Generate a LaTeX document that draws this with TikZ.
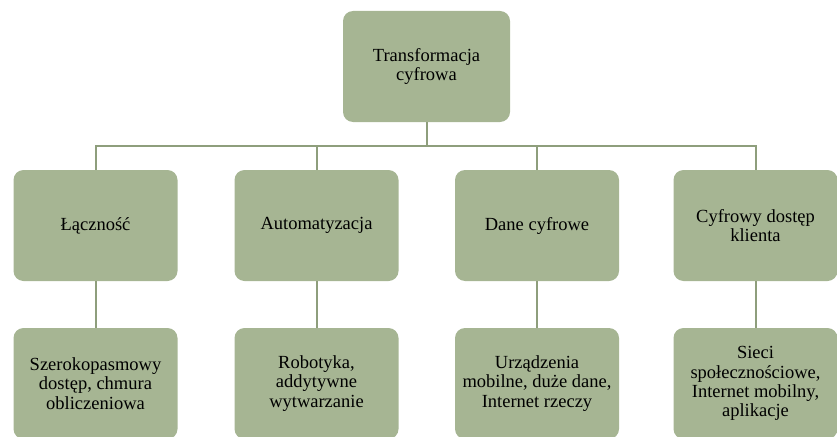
\documentclass[tikz,border=0pt]{standalone}
\usepackage{fontspec}
\setmainfont{Liberation Serif}
\usetikzlibrary{calc}

\definecolor{sage}{HTML}{A6B593}
\definecolor{sageline}{HTML}{8E9E7C}

\begin{document}
\begin{tikzpicture}[x=1pt, y=1pt,
    box/.style={fill=sage, rounded corners=10pt, minimum width=164pt, minimum height=111pt,
        align=center, inner sep=2pt, font=\fontsize{18.5}{19.3}\selectfont},
    link/.style={draw=sageline, line width=2pt}]
        \useasboundingbox (0,0) rectangle (837,-436);
        \clip (0,0) rectangle (837,-436);

        % Root
        \node[box, minimum width=167pt] (root) at (426.5,-66.5) {Transformacja\\cyfrowa};

        % First level
        \node[box] (lacz) at (95.5,-225.5) {Łączność};
        \node[box] (auto) at (316.5,-225.5) {Automatyzacja};
        \node[box] (dane) at (537,-225.5) {Dane cyfrowe};
        \node[box] (klient) at (755.5,-225.5) {Cyfrowy dostęp\\klienta};

        % Second level
        \node[box] (lacz2) at (95.5,-383.5) {Szerokopasmowy\\dostęp, chmura\\obliczeniowa};
        \node[box] (auto2) at (316.5,-383.5) {Robotyka,\\addytywne\\wytwarzanie};
        \node[box] (dane2) at (537,-383.5) {Urządzenia\\mobilne, duże dane,\\Internet rzeczy};
        \node[box] (klient2) at (755.5,-383.5) {Sieci\\społecznościowe,\\Internet mobilny,\\aplikacje};

        % Connectors
        \coordinate (bus) at (0,-146);
        \foreach \n in {lacz,auto,dane,klient}{
            \draw[link] (root.south) -- (root.south |- bus) -| (\n.north);
            \draw[link] (\n.south) -- (\n2.north);
        }
\end{tikzpicture}
\end{document}
